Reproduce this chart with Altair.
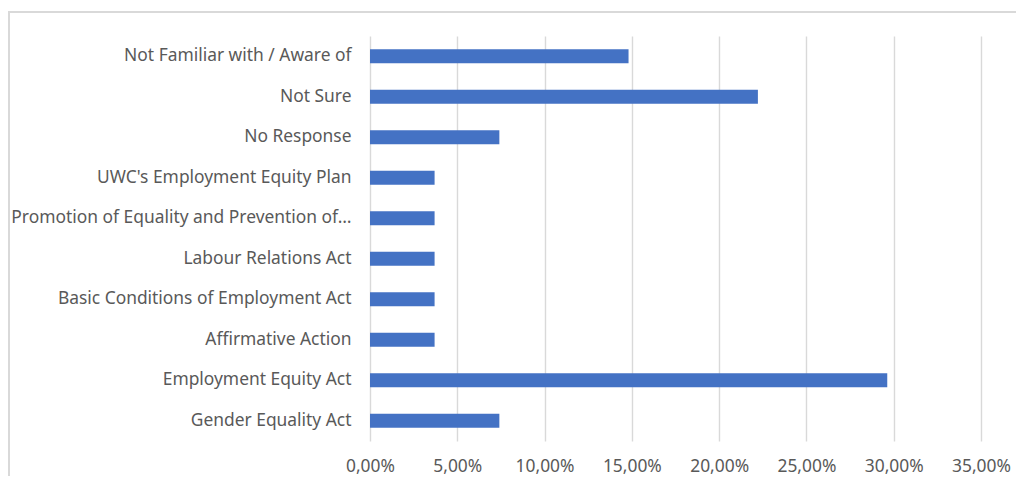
import altair as alt
import pandas as pd

categories = [
    "Not Familiar with / Aware of",
    "Not Sure",
    "No Response",
    "UWC's Employment Equity Plan",
    "Promotion of Equality and Prevention of\u2026",
    "Labour Relations Act",
    "Basic Conditions of Employment Act",
    "Affirmative Action",
    "Employment Equity Act",
    "Gender Equality Act",
]
values = [0.1481, 0.2222, 0.0741, 0.0370, 0.0370, 0.0370, 0.0370, 0.0370, 0.2963, 0.0741]
x_ticks = [0, 0.05, 0.10, 0.15, 0.20, 0.25, 0.30, 0.35]

df = pd.DataFrame({"category": categories, "value": values})

FONT = "Noto Sans"
GRID = "#d9d9d9"

bars = alt.Chart(df).mark_bar(color="#4472C4").encode(
    x=alt.X(
        "value:Q",
        scale=alt.Scale(domain=[0, 0.35], nice=False),
        axis=alt.Axis(
            values=x_ticks,
            labelExpr="replace(format(datum.value, '.2%'), '.', ',')",
            grid=True,
            gridColor=GRID,
            gridWidth=1.4,
            domain=False,
            ticks=False,
            labelFlush=False,
            labelOverlap=False,
            labelFontSize=17.4,
            labelColor="#595959",
            labelFont=FONT,
            labelPadding=16,
            title=None,
        ),
    ),
    y=alt.Y(
        "category:N",
        sort=categories,
        scale=alt.Scale(paddingInner=0.65, paddingOuter=0.325),
        axis=alt.Axis(
            domain=False,
            ticks=False,
            grid=False,
            labelFontSize=17.4,
            labelColor="#595959",
            labelFont=FONT,
            labelPadding=19,
            labelLimit=400,
            title=None,
        ),
    ),
)

frame_df = pd.DataFrame({"a": [0]})
left_line = alt.Chart(frame_df).mark_rule(color=GRID, strokeWidth=2).encode(
    x=alt.value(-361), y=alt.value(-24), y2=alt.value(450)
)
top_line = alt.Chart(frame_df).mark_rule(color=GRID, strokeWidth=2).encode(
    y=alt.value(-24), x=alt.value(-362), x2=alt.value(650)
)

chart = alt.layer(bars, left_line, top_line).properties(
    width=611,
    height=405,
    padding={"left": 362, "top": 28, "right": 35, "bottom": 35},
    autosize=alt.AutoSizeParams(type="none"),
    background="white",
).configure_view(stroke=None)

chart.save("out.html", embed_options={"renderer": "svg", "actions": False})
